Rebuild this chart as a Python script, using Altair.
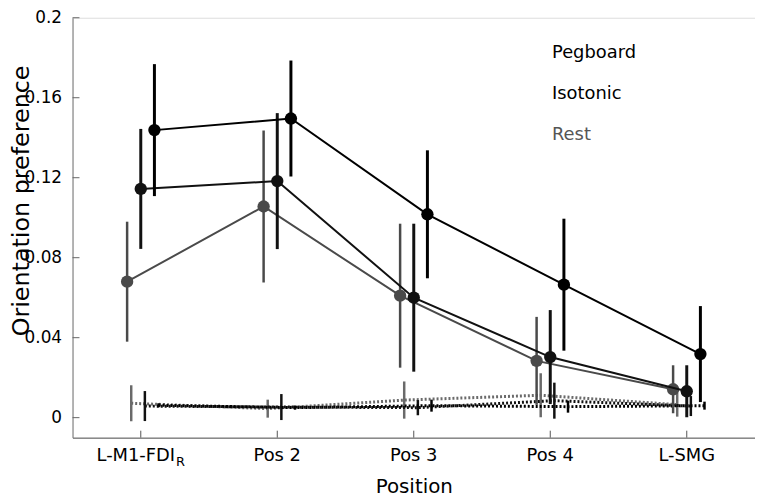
import altair as alt
import pandas as pd

# ---------------- data ----------------
categories = ["L-M1-FDI", "Pos 2", "Pos 3", "Pos 4", "L-SMG"]
first_subscript = "R"
conditions = ["Rest", "Isotonic", "Pegboard"]

pegboard_mean = [0.1438, 0.1496, 0.1017, 0.0665, 0.0318]
pegboard_err = [0.033, 0.029, 0.032, 0.033, 0.024]
isotonic_mean = [0.1144, 0.1183, 0.0600, 0.0303, 0.0132]
isotonic_err = [0.030, 0.034, 0.037, 0.0235, 0.013]
rest_mean = [0.0680, 0.1056, 0.0610, 0.0284, 0.0142]
rest_err = [0.030, 0.038, 0.036, 0.022, 0.012]

# baseline (dotted) series
pegboard_null_mean = [0.0062, 0.0050, 0.0060, 0.0055, 0.0060]
pegboard_null_err = [0.0010, 0.0010, 0.0030, 0.0030, 0.0020]
isotonic_null_mean = [0.0058, 0.0053, 0.0050, 0.0085, 0.0058]
isotonic_null_err = [0.0075, 0.0065, 0.0038, 0.0090, 0.0050]
rest_null_mean = [0.0072, 0.0045, 0.0088, 0.0112, 0.0065]
rest_null_err = [0.0090, 0.0045, 0.0093, 0.0110, 0.0060]

y_ticks = [0, 0.04, 0.08, 0.12, 0.16, 0.2]

# ---------------- styles ----------------
W, H = 687.5, 423
colors = {"Pegboard": "#000000", "Isotonic": "#111111", "Rest": "#4a4a4a"}
null_colors = {"Pegboard": "#000000", "Isotonic": "#111111", "Rest": "#6a6a6a"}
legend_colors = {"Pegboard": "#000000", "Isotonic": "#000000", "Rest": "#555555"}
offsets = {"Rest": -0.1, "Isotonic": 0.0, "Pegboard": 0.1}
null_shift = 0.03
FONT = "DejaVu Sans"

series = {
    "Pegboard": (pegboard_mean, pegboard_err, pegboard_null_mean, pegboard_null_err),
    "Isotonic": (isotonic_mean, isotonic_err, isotonic_null_mean, isotonic_null_err),
    "Rest": (rest_mean, rest_err, rest_null_mean, rest_null_err),
}


def frame(cond, means, errs, shift):
    return pd.DataFrame({
        "cond": cond,
        "x": [i + offsets[cond] + shift for i in range(len(categories))],
        "m": means,
        "lo": [m - e for m, e in zip(means, errs)],
        "hi": [m + e for m, e in zip(means, errs)],
    })


xscale = alt.Scale(domain=[-0.5, 4.5], nice=False, zero=False)
yscale = alt.Scale(domain=[-0.01, 0.2], nice=False, zero=False)

xaxis = alt.Axis(
    title="Position", labels=False, ticks=False, tickSize=0, grid=False,
    domainColor="#555555", domainWidth=1,
    titleFont=FONT, titleFontSize=20, titleFontWeight="normal", titleColor="#000000",
    titleY=55, titleBaseline="alphabetic",
)
yaxis = alt.Axis(
    title="Orientation preference", values=y_ticks, format=".2~f",
    ticks=False, tickSize=0, grid=False, labelPadding=11,
    labelFont=FONT, labelFontSize=17, labelColor="#000000",
    domainColor="#777777", domainWidth=1,
    titleFont=FONT, titleFontSize=24, titleFontWeight="normal", titleColor="#000000",
    titleAngle=270, titleX=-44, titleY=184, titleAlign="center",
    titleBaseline="alphabetic",
)


def X(field):
    return alt.X(field, type="quantitative", scale=xscale, axis=xaxis)


def Y(field):
    return alt.Y(field, type="quantitative", scale=yscale, axis=yaxis)


layers = []

# dotted baseline series
for cond in ["Rest", "Isotonic", "Pegboard"]:
    _, _, nm, ne = series[cond]
    df = frame(cond, nm, ne, null_shift)
    c = null_colors[cond]
    layers.append(alt.Chart(df).mark_line(color=c, strokeWidth=3, strokeDash=[2, 2])
                  .encode(x=X("x"), y=Y("m")))
    layers.append(alt.Chart(df).mark_rule(color=c, strokeWidth=2.5)
                  .encode(x=X("x"), y=Y("lo"), y2="hi"))

# solid series
for cond in ["Rest", "Isotonic", "Pegboard"]:
    m, e, _, _ = series[cond]
    df = frame(cond, m, e, 0.0)
    c = colors[cond]
    layers.append(alt.Chart(df).mark_line(color=c, strokeWidth=2)
                  .encode(x=X("x"), y=Y("m")))
    layers.append(alt.Chart(df).mark_rule(color=c, strokeWidth=3 if cond != "Rest" else 2.5)
                  .encode(x=X("x"), y=Y("lo"), y2="hi"))
    layers.append(alt.Chart(df).mark_point(filled=True, shape="circle", size=155,
                                           color=c, opacity=1, strokeWidth=0)
                  .encode(x=X("x"), y=Y("m")))

# inward ticks
ytick_df = pd.DataFrame({"v": y_ticks})
layers.append(alt.Chart(ytick_df).mark_rule(color="#666666", strokeWidth=1)
              .encode(y=Y("v"), x=alt.value(0), x2=alt.value(7)))
xtick_df = pd.DataFrame({"x": list(range(len(categories)))})
layers.append(alt.Chart(xtick_df).mark_rule(color="#555555", strokeWidth=1)
              .encode(x=X("x"), y=alt.value(H), y2=alt.value(H - 7)))

# x tick labels
LAB_Y = 447
lab_df = pd.DataFrame({"x": list(range(len(categories))), "label": categories})
layers.append(alt.Chart(lab_df.iloc[1:]).mark_text(font=FONT, fontSize=18, color="#000000",
                                                  baseline="alphabetic", align="center")
              .encode(x=X("x"), y=alt.value(LAB_Y), text="label:N"))
layers.append(alt.Chart(lab_df.iloc[:1]).mark_text(font=FONT, fontSize=18, color="#000000",
                                                  baseline="alphabetic", align="center", dx=-5)
              .encode(x=X("x"), y=alt.value(LAB_Y), text="label:N"))
sub_df = pd.DataFrame({"x": [0], "label": [first_subscript]})
layers.append(alt.Chart(sub_df).mark_text(font=FONT, fontSize=13, color="#000000",
                                          baseline="alphabetic", align="left", dx=35.5, dy=5)
              .encode(x=X("x"), y=alt.value(LAB_Y), text="label:N"))

# legend as coloured text
leg_y = {"Pegboard": 41, "Isotonic": 82, "Rest": 123}
for cond in ["Pegboard", "Isotonic", "Rest"]:
    ldf = pd.DataFrame({"label": [cond]})
    layers.append(alt.Chart(ldf).mark_text(font=FONT, fontSize=18, color=legend_colors[cond],
                                           align="left", baseline="alphabetic")
                  .encode(x=alt.value(483), y=alt.value(leg_y[cond]), text="label:N"))

chart = alt.layer(*layers).properties(
    width=W, height=H,
    autosize=alt.AutoSizeParams(type="none"),
    padding={"left": 65, "top": 8, "right": 0, "bottom": 62},
).configure_view(stroke=None).configure(background="white")

chart.save("out.html", embed_options={"renderer": "svg", "actions": False})
